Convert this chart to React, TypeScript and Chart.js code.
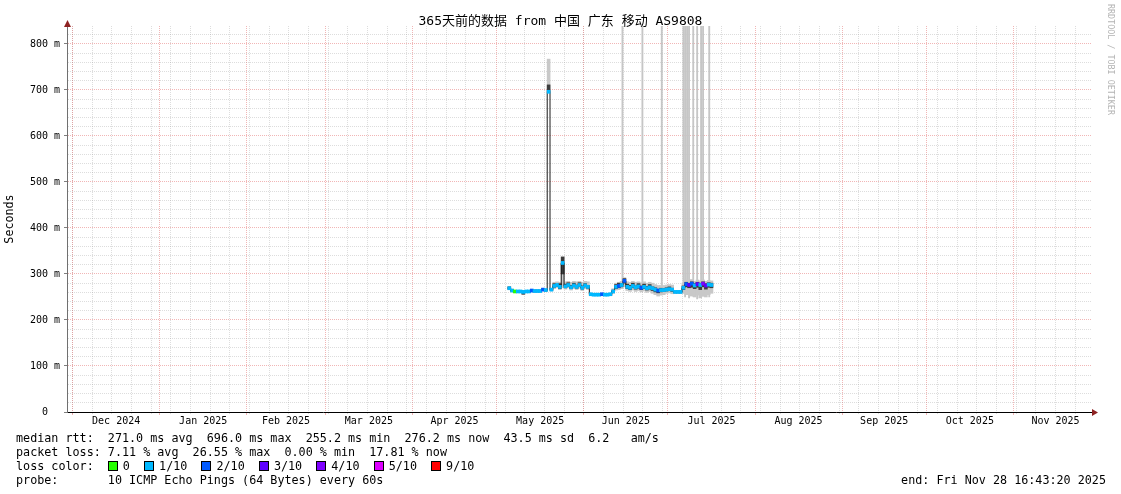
import React, { useEffect, useRef } from 'react';
import { Chart, registerables } from 'chart.js';

Chart.register(...registerables);

// ---------------- data ----------------
const TITLE = '365天前的数据 from 中国 广东 移动 AS9808';
const X_MIN_DAY = 0;
const X_MAX_DAY = 365;
const Y_MAX_S = 0.839;
const FIRST_DATA_DAY = 157; // day index (from chart start) of the first sample

const monthStartDays = [2, 33, 64, 92, 123, 153, 184, 214, 245, 276, 306, 337, 367];
const monthLabels = ['Dec 2024', 'Jan 2025', 'Feb 2025', 'Mar 2025', 'Apr 2025', 'May 2025',
  'Jun 2025', 'Jul 2025', 'Aug 2025', 'Sep 2025', 'Oct 2025', 'Nov 2025'];
const FIRST_SUNDAY_DAY = 2;
const WEEK_DAYS = 7;

const Y_MINOR_MS = 20;
const Y_MAJOR_MS = 100;

// median rtt per day (ms)
const medianMs = [
  269, 264, 262, 262, 262, 261, 262, 262, 264, 263,
  263, 263, 266, 265, 696, 266, 274, 276, 272, 324,
  273, 276, 271, 275, 272, 276, 270, 275, 272, 256,
  255, 255, 255, 256, 255, 255, 256, 262, 272, 274,
  276, 285, 272, 270, 274, 271, 273, 270, 272, 269,
  271, 269, 266, 264, 265, 265, 266, 267, 266, 261,
  261, 261, 270, 278, 276, 279, 275, 278, 276, 279,
  275, 277, 276,
];
// loss class per day (tenths of pings lost)
const lossClass = [
  1, 1, 0, 1, 1, 1, 1, 1, 2, 1,
  1, 1, 2, 1, 1, 1, 1, 1, 1, 1,
  1, 1, 1, 1, 1, 1, 1, 1, 1, 1,
  1, 1, 1, 2, 1, 1, 1, 1, 1, 2,
  1, 2, 1, 1, 1, 1, 1, 2, 1, 1,
  1, 1, 1, 2, 1, 1, 1, 1, 1, 1,
  1, 1, 1, 2, 3, 2, 1, 3, 1, 4,
  3, 1, 1,
];
// outer smoke (ms)
const smokeHiMs = [
  272, 267, 264, 264, 264, 263, 264, 264, 266, 265,
  265, 265, 268, 267, 767, 268, 282, 283, 282, 337,
  283, 284, 282, 284, 283, 284, 282, 284, 283, 258,
  257, 257, 257, 258, 257, 257, 258, 268, 280, 282,
  284, 292, 283, 282, 284, 282, 283, 281, 283, 280,
  282, 280, 277, 275, 275, 275, 276, 277, 276, 263,
  263, 263, 280, 287, 285, 288, 284, 287, 285, 287,
  284, 286, 285,
];
const smokeLoMs = [
  266, 261, 260, 260, 260, 255, 260, 260, 261, 261,
  261, 261, 263, 262, 696, 263, 268, 270, 266, 270,
  267, 270, 265, 268, 266, 269, 264, 268, 266, 253,
  253, 253, 253, 253, 253, 253, 253, 258, 265, 266,
  268, 272, 264, 262, 265, 262, 264, 261, 263, 260,
  262, 258, 255, 252, 254, 255, 258, 259, 257, 258,
  258, 258, 262, 256, 255, 252, 250, 254, 248, 252,
  250, 255, 258,
];
// inner (dense) smoke (ms)
const darkHiMs = [
  272, 266, 264, 264, 264, 263, 264, 264, 266, 265,
  265, 265, 268, 267, 711, 268, 279, 278, 279, 337,
  278, 281, 275, 280, 276, 281, 274, 279, 275, 258,
  257, 257, 257, 258, 257, 257, 258, 265, 277, 280,
  279, 290, 278, 275, 280, 274, 279, 274, 278, 273,
  277, 272, 270, 267, 269, 268, 270, 272, 269, 263,
  263, 263, 274, 282, 280, 283, 279, 282, 280, 283,
  279, 281, 280,
];
const darkLoMs = [
  267, 262, 260, 260, 260, 256, 260, 260, 262, 261,
  261, 261, 264, 263, 696, 264, 271, 273, 268, 300,
  270, 273, 268, 272, 269, 273, 267, 272, 269, 254,
  253, 253, 253, 254, 253, 253, 254, 260, 268, 270,
  272, 280, 268, 266, 270, 267, 269, 266, 268, 265,
  267, 264, 261, 259, 261, 262, 263, 264, 262, 259,
  259, 259, 266, 272, 270, 271, 268, 271, 266, 272,
  267, 271, 270,
];
// samples whose smoke runs off the top of the graph
const outlierDays = [197.8, 204.9, 211.8, 219.5, 220.1, 220.8, 221.5, 223.0, 224.4, 225.8, 226.5, 228.7];
const outlierLoMs = [282, 281, 274, 258, 250, 255, 248, 252, 246, 250, 252, 250];
const OUTLIER_TOP_S = 2;

const lossColors: Record<number, string> = {
  0: '#26ff00', 1: '#00b8ff', 2: '#0059ff', 3: '#5e00ff', 4: '#7e00ff', 5: '#dd00ff', 9: '#ff0000',
};
const legendItems = [
  { cls: 0, label: '0' }, { cls: 1, label: '1/10' }, { cls: 2, label: '2/10' },
  { cls: 3, label: '3/10' }, { cls: 4, label: '4/10' }, { cls: 5, label: '5/10' }, { cls: 9, label: '9/10' },
];
const statsLine1 = 'median rtt:  271.0 ms avg  696.0 ms max  255.2 ms min  276.2 ms now  43.5 ms sd  6.2   am/s';
const statsLine2 = 'packet loss: 7.11 % avg  26.55 % max  0.00 % min  17.81 % now';
const probeLine = 'probe:       10 ICMP Echo Pings (64 Bytes) every 60s';
const endLine = 'end: Fri Nov 28 16:43:20 2025';

// ---------------- style ----------------
const MONO = "'DejaVu Sans Mono', 'Noto Sans CJK SC', monospace";
const GRID_GRAY = 'rgba(143,143,143,0.3)';
const GRID_RED = 'rgba(222,80,80,0.42)';
const ARROW = '#8e2222';
const MEDIAN_HALF_MS = 3.3;
const DAY_BAR_PX = 2.95;

const toS = (ms: number) => ms / 1000;

const arrowPlugin = {
  id: 'rrdArrows',
  afterDraw(chart: any) {
    const { ctx, chartArea } = chart;
    const x0 = Math.round(chartArea.left) + 0.5;
    const yb = Math.round(chartArea.bottom) + 0.5;
    ctx.save();
    ctx.fillStyle = ARROW;
    ctx.beginPath();
    ctx.moveTo(x0 - 3.5, chartArea.top + 1);
    ctx.lineTo(x0 + 3.5, chartArea.top + 1);
    ctx.lineTo(x0, chartArea.top - 6);
    ctx.closePath();
    ctx.fill();
    ctx.beginPath();
    ctx.moveTo(chartArea.right, yb - 3.5);
    ctx.lineTo(chartArea.right, yb + 3.5);
    ctx.lineTo(chartArea.right + 6, yb);
    ctx.closePath();
    ctx.fill();
    ctx.restore();
  },
};

export default function App() {
  const ref = useRef<HTMLCanvasElement>(null);

  useEffect(() => {
    document.body.style.margin = '0';
    const canvas = ref.current!;
    const days = medianMs.map((_, i) => FIRST_DATA_DAY + i);

    const outlierData = outlierDays.map((d, i) => ({ x: d, y: [toS(outlierLoMs[i]), OUTLIER_TOP_S] }));
    const smokeData = days.map((d, i) => ({ x: d + 0.5, y: [toS(smokeLoMs[i]), toS(smokeHiMs[i])] }));
    const darkData = days.map((d, i) => ({ x: d + 0.5, y: [toS(darkLoMs[i]), toS(darkHiMs[i])] }));
    const lineData = days.map((d, i) => ({ x: d, y: toS(medianMs[i]) }));
    lineData.push({ x: days[days.length - 1] + 1, y: toS(medianMs[medianMs.length - 1]) });
    const bandData = days.map((d, i) => ({
      x: d + 0.5,
      y: [toS(medianMs[i] - MEDIAN_HALF_MS), toS(medianMs[i] + MEDIAN_HALF_MS)],
    }));
    const bandColors = lossClass.map((c) => lossColors[c]);

    const labelCenters = monthLabels.map((_, i) => (monthStartDays[i] + monthStartDays[i + 1]) / 2);
    const gridMonths = monthStartDays.filter((d) => d >= X_MIN_DAY && d <= X_MAX_DAY);
    const weekTicks: number[] = [];
    for (let d = FIRST_SUNDAY_DAY; d <= X_MAX_DAY; d += WEEK_DAYS) weekTicks.push(d);
    const yTicks: number[] = [];
    for (let v = 0; v <= Y_MAX_S * 1000; v += Y_MINOR_MS) yTicks.push(v / 1000);

    const isMajor = (ctx: any) => {
      const v = Math.round((ctx.tick ? ctx.tick.value : 0) * 1000);
      return v % Y_MAJOR_MS === 0;
    };

    const barCommon = { type: 'bar' as const, grouped: false, borderWidth: 0, xAxisID: 'x', yAxisID: 'y' };

    const chart = new Chart(canvas, {
      type: 'line',
      data: {
        datasets: [
          { ...barCommon, label: 'outliers', data: outlierData as any, backgroundColor: '#c6c6c6', barThickness: 1.2, order: 6 },
          { ...barCommon, label: 'smoke', data: smokeData as any, backgroundColor: '#c8c8c8', barThickness: DAY_BAR_PX, order: 5 },
          { ...barCommon, label: 'dense', data: darkData as any, backgroundColor: '#3c3c3c', barThickness: DAY_BAR_PX, order: 4 },
          {
            type: 'line', label: 'median', data: lineData as any, stepped: 'before', borderColor: '#1a1a1a',
            borderWidth: 1, pointRadius: 0, fill: false, order: 3, xAxisID: 'x', yAxisID: 'y',
          },
          { ...barCommon, label: 'loss', data: bandData as any, backgroundColor: bandColors, barThickness: DAY_BAR_PX, order: 1 },
        ] as any,
      },
      options: {
        responsive: false,
        maintainAspectRatio: false,
        animation: false,
        devicePixelRatio: 1,
        events: [],
        layout: { padding: { left: 0, right: 29, top: 26, bottom: 0 } },
        plugins: { legend: { display: false }, tooltip: { enabled: false }, title: { display: false } },
        scales: {
          xWeek: {
            type: 'linear', position: 'bottom', min: X_MIN_DAY, max: X_MAX_DAY, offset: false, weight: 0,
            bounds: 'data',
            afterBuildTicks: (s: any) => { s.ticks = weekTicks.map((v) => ({ value: v })); },
            afterFit: (s: any) => { s.height = 0; },
            ticks: { display: false },
            grid: { color: GRID_GRAY, tickColor: GRID_GRAY, lineWidth: 1, drawTicks: true, tickLength: 2, offset: false },
            border: { display: false, dash: [1, 1] },
          },
          xMonth: {
            type: 'linear', position: 'bottom', min: X_MIN_DAY, max: X_MAX_DAY, offset: false, weight: 0,
            bounds: 'data',
            afterBuildTicks: (s: any) => { s.ticks = gridMonths.map((v) => ({ value: v })); },
            afterFit: (s: any) => { s.height = 0; },
            ticks: { display: false },
            grid: { color: GRID_RED, tickColor: GRID_RED, lineWidth: 1, drawTicks: true, tickLength: 3, offset: false },
            border: { display: false, dash: [1, 1] },
          },
          x: {
            type: 'linear', position: 'bottom', min: X_MIN_DAY, max: X_MAX_DAY, offset: false, weight: 1,
            bounds: 'data',
            afterBuildTicks: (s: any) => { s.ticks = labelCenters.map((v) => ({ value: v })); },
            afterFit: (s: any) => { s.height = 82; },
            ticks: {
              callback: (_v: any, i: number) => monthLabels[i],
              font: { family: MONO, size: 10 }, color: '#000', padding: 3,
              maxRotation: 0, minRotation: 0, autoSkip: false,
            },
            grid: { display: false, drawTicks: false, tickLength: 0, offset: false },
            border: { display: true, color: '#000', width: 1 },
          },
          y: {
            type: 'linear', position: 'left', min: 0, max: Y_MAX_S, bounds: 'data',
            afterBuildTicks: (s: any) => { s.ticks = yTicks.map((v) => ({ value: v })); },
            afterFit: (s: any) => { s.width = 67; },
            ticks: {
              autoSkip: false, padding: 4, color: '#000',
              font: { family: MONO, size: 10 },
              callback: (value: any) => {
                const v = Math.round(Number(value) * 1000);
                if (v % Y_MAJOR_MS !== 0) return '';
                return v === 0 ? '0  ' : `${v} m`;
              },
            },
            grid: {
              color: (ctx: any) => (isMajor(ctx) ? GRID_RED : GRID_GRAY),
              tickColor: (ctx: any) => (isMajor(ctx) ? '#808080' : 'rgba(0,0,0,0)'),
              lineWidth: 1, drawTicks: true, tickLength: 3,
            },
            border: { display: true, color: '#707070', width: 1, dash: [1, 1] },
            title: { display: true, text: 'Seconds', color: '#000', font: { family: MONO, size: 11.7 }, padding: { top: 3, bottom: 0 } },
          },
        } as any,
      },
      plugins: [arrowPlugin],
    });
    return () => chart.destroy();
  }, []);

  const textBase: React.CSSProperties = {
    position: 'absolute', fontFamily: MONO, fontSize: 11.74, lineHeight: '14px', whiteSpace: 'pre', color: '#000',
  };
  const lineTop = (n: number) => 431 + n * 14;

  return (
    <div style={{ position: 'fixed', left: 0, top: 0, width: 1121, height: 494, background: '#fff', overflow: 'hidden' }}>
      <canvas ref={ref} width={1121} height={494} style={{ position: 'absolute', left: 0, top: 0, width: 1121, height: 494 }} />
      <div style={{ position: 'absolute', left: 0, top: 13, width: 1121, textAlign: 'center', fontFamily: MONO, fontSize: 13, lineHeight: '16px', color: '#000', whiteSpace: 'pre' }}>
        {TITLE}
      </div>
      <div style={{ position: 'absolute', left: 1106, top: 4, writingMode: 'vertical-rl', fontFamily: MONO, fontSize: 8.4, lineHeight: '10px', color: '#b4b4b4', whiteSpace: 'pre' }}>
        RRDTOOL / TOBI OETIKER
      </div>
      <div style={{ ...textBase, left: 16, top: lineTop(0) }}>{statsLine1}</div>
      <div style={{ ...textBase, left: 16, top: lineTop(1) }}>{statsLine2}</div>
      <div style={{ ...textBase, left: 16, top: lineTop(2) }}>
        {'loss color:  '}
        {legendItems.map((it) => (
          <React.Fragment key={it.label}>
            <span style={{ display: 'inline-block', width: 8, height: 8, border: '1px solid #000', background: lossColors[it.cls], verticalAlign: '-1px' }} />
            <span style={{ marginLeft: 5 }}>{it.label}</span>
            {'  '}
          </React.Fragment>
        ))}
      </div>
      <div style={{ ...textBase, left: 16, top: lineTop(3) }}>{probeLine}</div>
      <div style={{ ...textBase, right: 15, top: lineTop(3) }}>{endLine}</div>
    </div>
  );
}
